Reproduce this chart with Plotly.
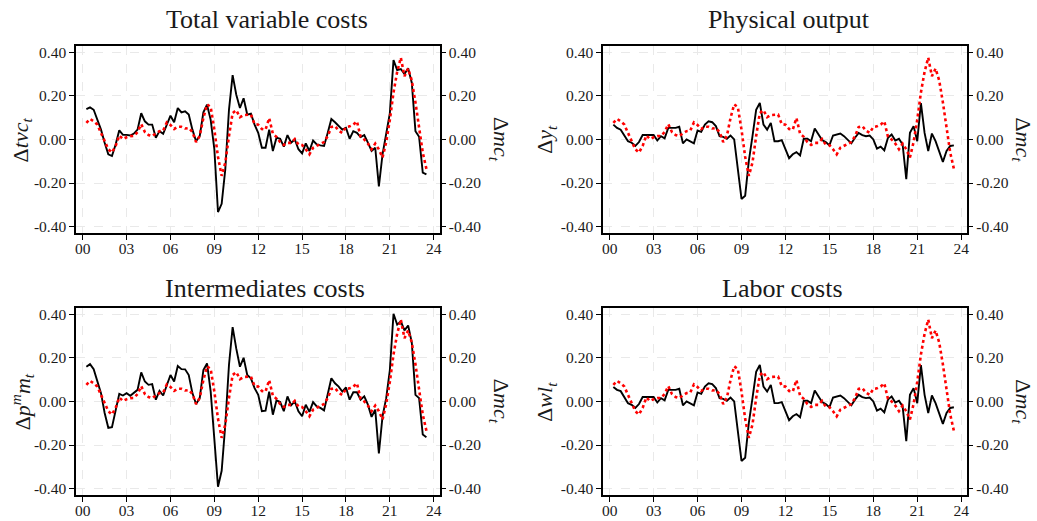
import plotly.graph_objects as go

# ---------------- data ----------------
quarters = [2000.25 + 0.25 * i for i in range(94)]
years_offset = [q - 2000 for q in quarters]

x_tick_vals = [0, 3, 6, 9, 12, 15, 18, 21, 24]
x_tick_text = ["00", "03", "06", "09", "12", "15", "18", "21", "24"]
y_tick_vals = [-0.4, -0.2, 0.0, 0.2, 0.4]
y_tick_text = ["-0.40", "-0.20", "0.00", "0.20", "0.40"]

panel_titles = ["Total variable costs", "Physical output", "Intermediates costs", "Labor costs"]
left_labels = ["Δ<i>tvc</i><sub><i>t</i></sub>", "Δ<i>y</i><sub><i>t</i></sub>",
               "Δ<i>p</i><sup><i>m</i></sup><i>m</i><sub><i>t</i></sub>", "Δ<i>wl</i><sub><i>t</i></sub>"]
right_label = "Δ<i>mc</i><sub><i>t</i></sub>"

# marginal cost growth (red, right axis) - same in all panels
d_mc = [
    0.076, 0.094, 0.083,
    0.068, 0.030, -0.012, -0.045,
    -0.060, -0.030, 0.018, 0.002,
    0.010, 0.015, 0.016, 0.034,
    0.070, 0.034, 0.020, 0.015,
    0.028, 0.038, 0.040, 0.078,
    0.066, 0.048, 0.058, 0.058,
    0.050, 0.052, 0.034, -0.012,
    0.016, 0.098, 0.161, 0.148,
    0.045, -0.080, -0.167, -0.106,
    0.015, 0.121, 0.134, 0.102,
    0.112, 0.114, 0.114, 0.070,
    0.068, 0.048, 0.045, 0.098,
    0.026, 0.012, -0.012, -0.025,
    -0.016, -0.016, 0.002, -0.024,
    -0.026, -0.045, -0.068, -0.038,
    -0.030, -0.023, -0.012, 0.015,
    0.057, 0.061, 0.040, 0.030,
    0.057, 0.060, 0.068, 0.083,
    0.012, 0.000, -0.019, -0.045,
    -0.019, -0.045, -0.083, -0.012,
    0.090, 0.215, 0.310, 0.375,
    0.290, 0.325, 0.270, 0.170,
    0.050, -0.060, -0.135,
]

# total variable costs growth
d_tvc = [
    0.139, 0.147, 0.136,
    0.090, 0.045, -0.015, -0.068,
    -0.076, -0.023, 0.042, 0.021,
    0.021, 0.018, 0.027, 0.045,
    0.120, 0.083, 0.068, 0.068,
    0.008, 0.038, 0.026, 0.064,
    0.109, 0.079, 0.144, 0.124,
    0.129, 0.114, 0.045, -0.008,
    0.015, 0.124, 0.159, 0.090,
    -0.045, -0.333, -0.295, -0.136,
    0.136, 0.295, 0.205, 0.144,
    0.189, 0.114, 0.118, 0.068,
    0.030, -0.038, -0.038, 0.045,
    -0.053, 0.008, 0.003, -0.033,
    0.020, -0.015, 0.000, -0.045,
    -0.064, -0.018, -0.053, -0.005,
    -0.023, -0.027, -0.030, 0.030,
    0.094, 0.079, 0.064, 0.045,
    0.053, 0.003, 0.038, 0.030,
    0.011, 0.020, -0.015, -0.053,
    -0.038, -0.215, -0.068, 0.030,
    0.121, 0.364, 0.318, 0.323,
    0.300, 0.326, 0.260, 0.038,
    0.012, -0.152, -0.160,
]

# physical output growth
d_y = [
    0.068, 0.053, 0.045,
    0.015, -0.008, -0.015, -0.030,
    -0.012, 0.020, 0.020, 0.020,
    0.020, -0.005, 0.015, 0.005,
    0.053, 0.053, 0.053, 0.058,
    -0.018, 0.000, -0.008, -0.018,
    0.041, 0.035, 0.068, 0.083,
    0.079, 0.061, 0.015, 0.012,
    0.003, 0.018, 0.000, -0.136,
    -0.273, -0.258, -0.098, 0.015,
    0.136, 0.167, 0.068, 0.045,
    0.076, -0.008, -0.008, -0.003,
    -0.045, -0.086, -0.068, -0.058,
    -0.073, 0.003, 0.003, -0.008,
    0.050, 0.023, -0.003, -0.012,
    -0.027, 0.018, 0.023, 0.027,
    0.015, 0.000, -0.018, 0.008,
    0.030, 0.020, 0.015, 0.018,
    0.000, -0.042, -0.033, -0.050,
    0.008, 0.023, -0.005, 0.003,
    -0.023, -0.182, 0.030, 0.061,
    -0.008, 0.167, 0.030, -0.053,
    0.027, -0.008, -0.053, -0.103,
    -0.053, -0.030, -0.027,
]

# intermediates costs growth
d_pm = [
    0.159, 0.171, 0.148,
    0.098, 0.038, -0.053, -0.121,
    -0.118, -0.045, 0.035, 0.027,
    0.038, 0.026, 0.038, 0.053,
    0.133, 0.091, 0.076, 0.079,
    0.008, 0.048, 0.027, 0.076,
    0.121, 0.091, 0.162, 0.148,
    0.147, 0.121, 0.038, -0.012,
    0.015, 0.144, 0.174, 0.045,
    -0.167, -0.391, -0.318, -0.106,
    0.167, 0.341, 0.242, 0.159,
    0.200, 0.121, 0.106, 0.061,
    0.030, -0.045, -0.042, 0.045,
    -0.061, 0.005, -0.003, -0.045,
    0.023, -0.018, 0.000, -0.045,
    -0.068, -0.015, -0.048, -0.003,
    -0.023, -0.030, -0.041, 0.030,
    0.106, 0.083, 0.068, 0.045,
    0.064, 0.008, 0.042, 0.042,
    0.008, 0.023, -0.015, -0.071,
    -0.038, -0.238, -0.068, 0.015,
    0.144, 0.402, 0.352, 0.367,
    0.326, 0.348, 0.270, 0.030,
    0.015, -0.152, -0.164,
]

# labor costs growth
d_wl = [
    0.066, 0.053, 0.047,
    0.016, -0.008, -0.016, -0.030,
    -0.012, 0.020, 0.020, 0.020,
    0.020, -0.005, 0.015, 0.005,
    0.053, 0.053, 0.053, 0.058,
    -0.018, 0.000, -0.008, -0.018,
    0.041, 0.035, 0.068, 0.083,
    0.079, 0.061, 0.015, 0.012,
    0.003, 0.018, 0.000, -0.136,
    -0.273, -0.258, -0.098, 0.015,
    0.136, 0.167, 0.068, 0.045,
    0.076, -0.008, -0.008, -0.003,
    -0.045, -0.086, -0.068, -0.058,
    -0.073, 0.003, 0.003, -0.008,
    0.050, 0.023, -0.003, -0.012,
    -0.027, 0.018, 0.023, 0.027,
    0.015, 0.000, -0.018, 0.008,
    0.030, 0.020, 0.015, 0.018,
    0.000, -0.042, -0.033, -0.050,
    0.008, 0.023, -0.005, 0.003,
    -0.023, -0.182, 0.030, 0.061,
    -0.008, 0.167, 0.030, -0.053,
    0.027, -0.008, -0.053, -0.103,
    -0.053, -0.030, -0.027,
]

black_series = [d_tvc, d_y, d_pm, d_wl]

# ---------------- layout geometry ----------------
W, H = 1037, 521
FONT = "Liberation Serif, Times New Roman, serif"
TXT = "#1a1a1a"

def px_x(p):
    return p / W

def px_y(p):
    return 1 - p / H

col_px = [(75.5, 440.0), (604.0, 969.0)]
row_px = [(44.0, 233.0), (308.0, 497.0)]
title_cx = [267, 790, 265, 784]
title_cy = [18, 18, 289, 289]
left_title_x = [21, 547, 21, 547]
right_title_x = [500, 1024, 500, 1024]

fig = go.Figure()
layout = dict(
    width=W, height=H,
    margin=dict(l=0, r=0, t=0, b=0),
    paper_bgcolor="white", plot_bgcolor="white",
    showlegend=False,
    font=dict(family=FONT, color=TXT, size=15),
)
annotations = []

for i in range(4):
    r, c = divmod(i, 2)
    xn = i + 1
    yl = 2 * i + 1
    yr = 2 * i + 2
    xs = "" if xn == 1 else str(xn)
    yls = "" if yl == 1 else str(yl)
    yrs = str(yr)

    fig.add_trace(go.Scatter(
        x=years_offset, y=black_series[i], mode="lines",
        line=dict(color="black", width=1.9),
        xaxis="x" + xs, yaxis="y" + yls))
    fig.add_trace(go.Scatter(
        x=years_offset, y=d_mc, mode="lines",
        line=dict(color="#ff0000", width=2.6, dash="dot"),
        xaxis="x" + xs, yaxis="y" + yrs))

    x0, x1 = col_px[c]
    ytop, ybot = row_px[r]
    layout["xaxis" + xs] = dict(
        domain=[px_x(x0), px_x(x1)], anchor="y" + yls,
        range=[-0.44, 24.41], tickvals=x_tick_vals, ticktext=x_tick_text,
        showline=True, mirror=True, linecolor="black", linewidth=2,
        ticks="outside", ticklen=5, tickwidth=1.2, tickcolor="black",
        ticklabelstandoff=-5,
        showgrid=True, gridcolor="#e9e9e9", griddash="dash", gridwidth=1,
        zeroline=False, tickfont=dict(size=15.5, family=FONT, color=TXT),
    )
    layout["yaxis" + yls] = dict(
        domain=[px_y(ybot), px_y(ytop)], anchor="x" + xs,
        range=[-0.43, 0.43], tickvals=y_tick_vals, ticktext=y_tick_text,
        showline=True, mirror=True, linecolor="black", linewidth=2,
        ticks="outside", ticklen=5, tickwidth=1.2, tickcolor="black",
        showgrid=True, gridcolor="#e9e9e9", griddash="dash", gridwidth=1,
        zeroline=False, tickfont=dict(size=15.5, family=FONT, color=TXT),
    )
    layout["yaxis" + yrs] = dict(
        overlaying="y" + yls, side="right", anchor="x" + xs,
        range=[-0.43, 0.43], tickvals=y_tick_vals, ticktext=y_tick_text,
        showline=False,
        ticks="outside", ticklen=5, tickwidth=1.2, tickcolor="black",
        showgrid=False, zeroline=False,
        tickfont=dict(size=15.5, family=FONT, color=TXT),
    )

    cy = (ytop + ybot) / 2
    annotations.append(dict(
        text=panel_titles[i], x=px_x(title_cx[i]), y=px_y(title_cy[i]),
        xref="paper", yref="paper", showarrow=False,
        xanchor="center", yanchor="middle",
        font=dict(size=26, family=FONT, color=TXT)))
    annotations.append(dict(
        text=left_labels[i], x=px_x(left_title_x[i]), y=px_y(cy),
        xref="paper", yref="paper", showarrow=False, textangle=-90,
        xanchor="center", yanchor="middle",
        font=dict(size=22, family=FONT, color=TXT)))
    annotations.append(dict(
        text=right_label, x=px_x(right_title_x[i]), y=px_y(cy),
        xref="paper", yref="paper", showarrow=False, textangle=90,
        xanchor="center", yanchor="middle",
        font=dict(size=22, family=FONT, color=TXT)))

layout["annotations"] = annotations
fig.update_layout(**layout)
fig.write_html(
    "out.html",
    config={"displayModeBar": False},
    post_script="document.body.style.margin='0px';document.body.style.padding='0px';",
)
